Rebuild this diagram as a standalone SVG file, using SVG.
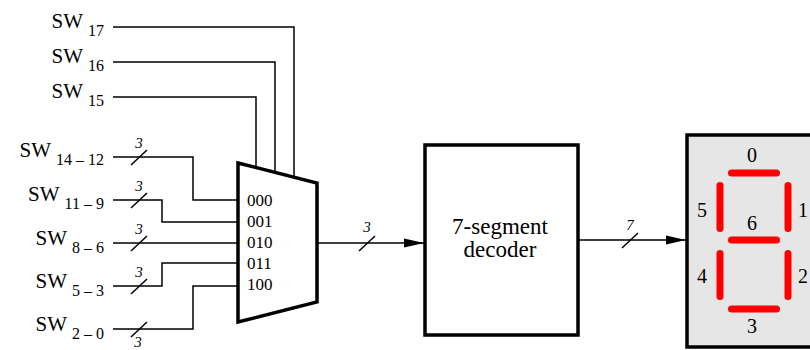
<svg xmlns="http://www.w3.org/2000/svg" width="810" height="350" viewBox="0 0 810 350">
<style>
  text { font-family: 'Liberation Serif', 'DejaVu Serif', 'Noto Serif', serif; fill: #000; }
  .sw { font-size: 21px; }
  .sub { font-size: 16px; }
  .bw { font-size: 15px; font-style: italic; }
  .sel { font-size: 17px; }
  .wire { fill: none; stroke: #000; stroke-width: 1.5; }
  .bold { stroke: #000; stroke-width: 3.5; }
  .seg { stroke: #ff0000; stroke-width: 7; stroke-linecap: round; }
  .dig { font-size: 20px; text-anchor: middle; }
</style>
<defs>
  <marker id="arr" markerUnits="userSpaceOnUse" markerWidth="20" markerHeight="10" refX="20" refY="5" orient="auto">
    <path d="M0,0.5 L20,5 L0,9.5 Z" fill="#000"/>
  </marker>
</defs>

<g id="labels">
  <text class="sw" x="104" y="28" text-anchor="end">SW<tspan class="sub" dx="5" dy="8">17</tspan></text>
  <text class="sw" x="104" y="63" text-anchor="end">SW<tspan class="sub" dx="5" dy="8">16</tspan></text>
  <text class="sw" x="104" y="98" text-anchor="end">SW<tspan class="sub" dx="5" dy="8">15</tspan></text>
  <text class="sw" x="104" y="157" text-anchor="end">SW<tspan class="sub" dx="5" dy="8">14 – 12</tspan></text>
  <text class="sw" x="104" y="201" text-anchor="end">SW<tspan class="sub" dx="5" dy="8">11 – 9</tspan></text>
  <text class="sw" x="104" y="245" text-anchor="end">SW<tspan class="sub" dx="5" dy="8">8 – 6</tspan></text>
  <text class="sw" x="104" y="288" text-anchor="end">SW<tspan class="sub" dx="5" dy="8">5 – 3</tspan></text>
  <text class="sw" x="104" y="331" text-anchor="end">SW<tspan class="sub" dx="5" dy="8">2 – 0</tspan></text>
</g>

<g id="connectors">
  <path class="wire" d="M113,27 H294 V177"/>
  <path class="wire" d="M113,62 H275 V172"/>
  <path class="wire" d="M113,97 H256 V168"/>
  <path class="wire" d="M113,157 H193 V200 H238"/>
  <path class="wire" d="M113,200 H162 V222 H238"/>
  <path class="wire" d="M113,243 H238"/>
  <path class="wire" d="M113,286 H162 V263 H238"/>
  <path class="wire" d="M113,329 H193 V286 H238"/>
  <path class="wire" d="M317,243 H424" marker-end="url(#arr)"/>
  <path class="wire" d="M578,240 H686" marker-end="url(#arr)"/>
  <path class="wire" d="M131,165 L147,150"/>
  <path class="wire" d="M131,208 L147,193"/>
  <path class="wire" d="M131,251 L147,236"/>
  <path class="wire" d="M131,294 L147,279"/>
  <path class="wire" d="M131,337 L147,322"/>
  <path class="wire" d="M359,251 L375,236"/>
  <path class="wire" d="M622,248 L638,233"/>
  <text class="bw" x="139" y="148" text-anchor="middle">3</text>
  <text class="bw" x="139" y="191" text-anchor="middle">3</text>
  <text class="bw" x="139" y="234" text-anchor="middle">3</text>
  <text class="bw" x="139" y="277" text-anchor="middle">3</text>
  <text class="bw" x="138" y="347" text-anchor="middle">3</text>
  <text class="bw" x="367" y="232" text-anchor="middle">3</text>
  <text class="bw" x="630" y="230" text-anchor="middle">7</text>
</g>

<g id="mux">
  <polygon class="bold" points="238,163 317,183 317,302 238,322" fill="#fff"/>
  <text class="sel" x="247" y="206">000</text>
  <text class="sel" x="247" y="227">001</text>
  <text class="sel" x="247" y="248">010</text>
  <text class="sel" x="247" y="269">011</text>
  <text class="sel" x="247" y="290">100</text>
</g>

<g id="decoder">
  <rect class="bold" x="425" y="145" width="153" height="190" fill="#fff"/>
  <text x="500" y="234" font-size="23" text-anchor="middle">7-segment</text>
  <text x="500" y="257" font-size="23" text-anchor="middle">decoder</text>
</g>

<g id="display">
  <rect class="bold" x="687" y="135" width="150" height="212" fill="#e6e6e6"/>
  <line class="seg" x1="731.5" y1="173" x2="776.5" y2="173"/>
  <line class="seg" x1="731.5" y1="240" x2="776.5" y2="240"/>
  <line class="seg" x1="731.5" y1="309" x2="776.5" y2="309"/>
  <line class="seg" x1="720" y1="185.5" x2="720" y2="228.5"/>
  <line class="seg" x1="720" y1="253.5" x2="720" y2="296.5"/>
  <line class="seg" x1="788" y1="185.5" x2="788" y2="228.5"/>
  <line class="seg" x1="788" y1="253.5" x2="788" y2="296.5"/>
  <text class="dig" x="752" y="162">0</text>
  <text class="dig" x="803" y="217">1</text>
  <text class="dig" x="803" y="283">2</text>
  <text class="dig" x="752" y="333">3</text>
  <text class="dig" x="702" y="283">4</text>
  <text class="dig" x="702" y="217">5</text>
  <text class="dig" x="752" y="230">6</text>
</g>
</svg>
